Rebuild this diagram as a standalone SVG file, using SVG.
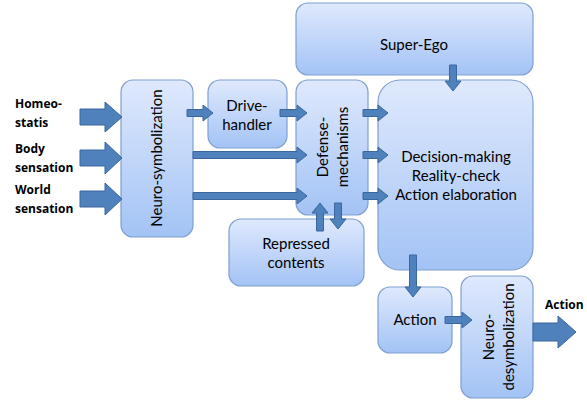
<svg xmlns="http://www.w3.org/2000/svg" width="587" height="402" viewBox="0 0 587 402">
<defs>
<linearGradient id="g" x1="0" y1="0" x2="0" y2="1">
<stop offset="0" stop-color="#dfe9fd"/>
<stop offset="1" stop-color="#a3c3f5"/>
</linearGradient>
</defs>
<style>
.box{fill:url(#g);stroke:#7f9fcf;stroke-width:1.2}
.t{font-family:Lato,"Open Sans",sans-serif;font-size:15px;fill:#000;text-anchor:middle}
.lb{font-family:"Open Sans","Liberation Sans",sans-serif;font-size:12px;font-weight:bold;fill:#000}
.ar{fill:#4f81bd;stroke:#3a679e;stroke-width:1}
</style>
<rect width="587" height="402" fill="#fff"/>
<g id="super-ego"><rect class="box" x="296" y="3" width="237" height="72" rx="12"/><text class="t" x="414" y="50">Super-Ego</text></g>
<g id="neuro-symbolization"><rect class="box" x="121" y="80" width="72" height="157" rx="12"/><text class="t" transform="translate(162 158) rotate(-90)">Neuro-symbolization</text></g>
<g id="drive-handler"><rect class="box" x="208" y="80" width="79" height="68" rx="12"/><text class="t" x="247" y="111">Drive-</text><text class="t" x="247" y="130">handler</text></g>
<g id="defense"><rect class="box" x="296" y="80" width="72" height="135" rx="12"/><text class="t" transform="translate(328 147) rotate(-90)">Defense-</text><text class="t" transform="translate(348 147) rotate(-90)">mechanisms</text></g>
<g id="decision"><rect class="box" x="378" y="80" width="155" height="190" rx="22"/><text class="t" x="456" y="162">Decision-making</text><text class="t" x="456" y="181">Reality-check</text><text class="t" x="456" y="200">Action elaboration</text></g>
<g id="repressed"><rect class="box" x="229" y="219" width="135" height="67" rx="12"/><text class="t" x="296" y="249">Repressed</text><text class="t" x="296" y="268">contents</text></g>
<g id="action"><rect class="box" x="378" y="287" width="74" height="66" rx="12"/><text class="t" x="415" y="325">Action</text></g>
<g id="neuro-desymbolization"><rect class="box" x="461" y="276" width="72" height="122" rx="12"/><text class="t" transform="translate(494 337) rotate(-90)">Neuro-</text><text class="t" transform="translate(514 337) rotate(-90)">desymbolization</text></g>
<g id="labels">
<text class="lb" x="15" y="108">Homeo-</text><text class="lb" x="15" y="127">statis</text>
<text class="lb" x="15" y="153">Body</text><text class="lb" x="15" y="172">sensation</text>
<text class="lb" x="15" y="194">World</text><text class="lb" x="15" y="213">sensation</text>
<text class="lb" x="545" y="309">Action</text>
</g>
<g id="connectors">
<path class="ar" d="M80 109H105V102L122 117L105 132V125H80Z"/>
<path class="ar" d="M80 150H105V142L122 158L105 174V166H80Z"/>
<path class="ar" d="M80 191H105V183L122 199L105 215V207H80Z"/>
<path class="ar" d="M187 109.5H203V105L213 113L203 121V116.5H187Z"/>
<path class="ar" d="M280 109.5H297V105L307 113L297 121V116.5H280Z"/>
<path class="ar" d="M193 151.5H297V147L307 155L297 163V158.5H193Z"/>
<path class="ar" d="M193 192.5H297V188L307 196L297 204V199.5H193Z"/>
<path class="ar" d="M363 109.5H378V105L388 113L378 121V116.5H363Z"/>
<path class="ar" d="M363 151.5H378V147L388 155L378 163V158.5H363Z"/>
<path class="ar" d="M363 192.5H378V188L388 196L378 204V199.5H363Z"/>
<path class="ar" d="M316.5 231V213H312L320 203L328 213H323.5V231Z"/>
<path class="ar" d="M334.5 203V219H330L338 229L346 219H341.5V203Z"/>
<path class="ar" d="M449.5 65V81H445L453 91L461 81H456.5V65Z"/>
<path class="ar" d="M409.5 255V287H405L413 297L421 287H416.5V255Z"/>
<path class="ar" d="M445 316.5H462V312L472 320L462 328V323.5H445Z"/>
<path class="ar" d="M533 323H558V316L576 332L558 348V341H533Z"/>
</g>
</svg>
